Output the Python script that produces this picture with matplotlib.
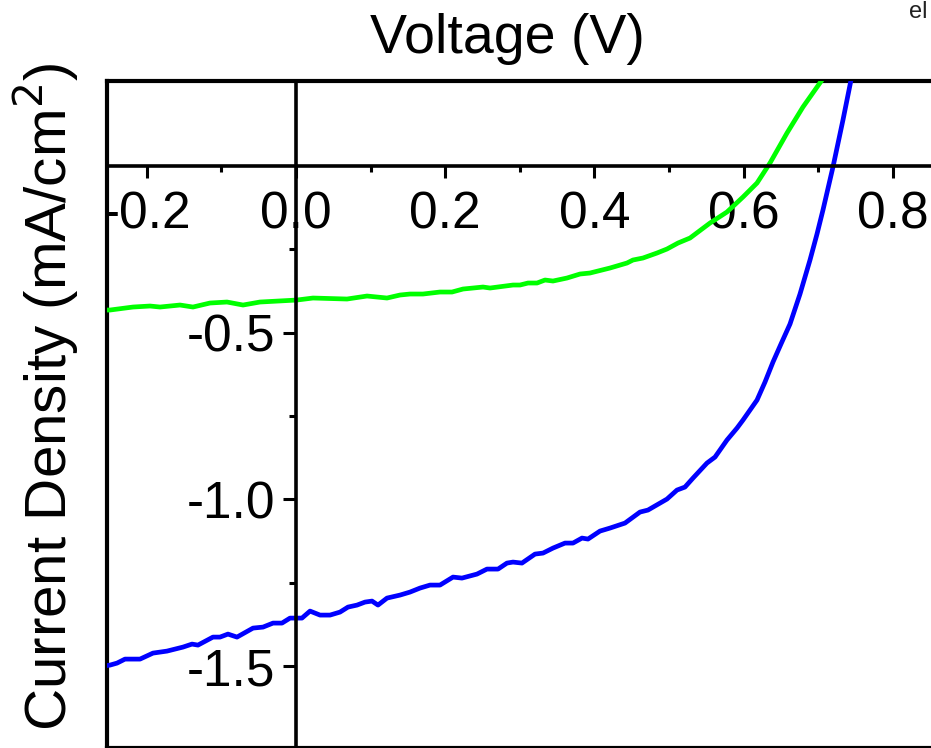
import matplotlib
matplotlib.use("Agg")
import matplotlib.pyplot as plt
from matplotlib.ticker import FixedLocator

plt.rcParams['font.family'] = ['Liberation Sans', 'DejaVu Sans']

# ---- data ----
blue_v = [-0.2587, -0.2493, -0.2399, -0.2292, -0.2091, -0.1917, -0.1729, -0.1515, -0.1394,
          -0.1314, -0.1113, -0.1019, -0.0912, -0.0791, -0.0576, -0.0442, -0.0308, -0.0188,
          -0.0080, 0.0080, 0.0188, 0.0322, 0.0456, 0.0590, 0.0697, 0.0818, 0.0925, 0.1019,
          0.1099, 0.1220, 0.1394, 0.1528, 0.1662, 0.1796, 0.1930, 0.2105, 0.2225, 0.2426,
          0.2560, 0.2708, 0.2828, 0.2909, 0.3029, 0.3204, 0.3311, 0.3445, 0.3606, 0.3713,
          0.3834, 0.3914, 0.4075, 0.4209, 0.4410, 0.4611, 0.4718, 0.4973, 0.5107, 0.5214,
          0.5322, 0.5509, 0.5617, 0.5777, 0.5912, 0.5992, 0.6086, 0.6180, 0.6287, 0.6394,
          0.6501, 0.6622, 0.6756, 0.6890, 0.6984, 0.7064, 0.7198, 0.7332, 0.7440, 0.7493]
blue_j = [-1.500, -1.497, -1.491, -1.479, -1.479, -1.461, -1.455, -1.443, -1.434,
          -1.437, -1.413, -1.413, -1.404, -1.413, -1.386, -1.383, -1.371, -1.371,
          -1.356, -1.356, -1.335, -1.347, -1.347, -1.338, -1.323, -1.317, -1.308, -1.305,
          -1.317, -1.296, -1.287, -1.278, -1.266, -1.257, -1.257, -1.233, -1.236, -1.224,
          -1.209, -1.209, -1.191, -1.188, -1.191, -1.164, -1.161, -1.146, -1.131, -1.131,
          -1.116, -1.119, -1.095, -1.086, -1.071, -1.038, -1.032, -0.999, -0.972, -0.963,
          -0.936, -0.891, -0.873, -0.822, -0.786, -0.762, -0.732, -0.702, -0.648, -0.588,
          -0.534, -0.474, -0.384, -0.282, -0.204, -0.132, -0.003, 0.138, 0.258, 0.318]

green_v = [-0.2587, -0.2493, -0.2185, -0.1957, -0.1823, -0.1555, -0.1381, -0.1153, -0.0925,
           -0.0710, -0.0483, 0.0013, 0.0228, 0.0684, 0.0952, 0.1220, 0.1394, 0.1528, 0.1702,
           0.1930, 0.2091, 0.2239, 0.2507, 0.2601, 0.2909, 0.3003, 0.3110, 0.3231, 0.3338,
           0.3445, 0.3633, 0.3807, 0.3941, 0.4209, 0.4437, 0.4517, 0.4651, 0.4839, 0.4973,
           0.5121, 0.5282, 0.5550, 0.5777, 0.5992, 0.6180, 0.6354, 0.6582, 0.6796, 0.7051,
           0.7131]
green_j = [-0.432, -0.432, -0.423, -0.420, -0.423, -0.417, -0.423, -0.411, -0.408,
           -0.417, -0.408, -0.402, -0.396, -0.399, -0.390, -0.396, -0.387, -0.384, -0.384,
           -0.378, -0.378, -0.369, -0.363, -0.366, -0.357, -0.357, -0.351, -0.351, -0.342,
           -0.345, -0.336, -0.324, -0.321, -0.306, -0.291, -0.282, -0.276, -0.261, -0.249,
           -0.231, -0.216, -0.171, -0.138, -0.093, -0.051, 0.009, 0.099, 0.177, 0.258,
           0.312]

x_major = [-0.2, 0.0, 0.2, 0.4, 0.6, 0.8]
x_major_labels = ["-0.2", "0.0", "0.2", "0.4", "0.6", "0.8"]
x_minor = [-0.1, 0.1, 0.3, 0.5, 0.7]
y_major = [-1.5, -1.0, -0.5]
y_major_labels = ["-1.5", "-1.0", "-0.5"]
y_minor = [-1.25, -0.75, -0.25]

W, H = 931, 748
fig = plt.figure(figsize=(W / 100, H / 100), dpi=100)

# pixel geometry
x0_px, ppv = 296.0, 746.0      # V=0 position and px per volt
y0_px, ppj = 166.0, 333.4      # J=0 position and px per mA/cm2
xlim = (-0.2534, 0.9)
ylim = (-1.745, 0.255)
left_px = x0_px + xlim[0] * ppv
right_px = x0_px + xlim[1] * ppv
top_px = y0_px - ylim[1] * ppj
bot_px = y0_px - ylim[0] * ppj
rect = [left_px / W, 1 - bot_px / H, (right_px - left_px) / W, (bot_px - top_px) / H]

ax = fig.add_axes(rect)
ax.set_xlim(*xlim)
ax.set_ylim(*ylim)
ax.set_facecolor('none')

ax.plot(green_v, green_j, color='#00FF00', lw=3.4, solid_joinstyle='round', zorder=3)
ax.plot(blue_v, blue_j, color='#0000FF', lw=3.4, solid_joinstyle='round', zorder=3)

# centered axes lines
ax.spines['left'].set_position(('data', 0))
ax.spines['bottom'].set_position(('data', 0))
ax.spines['left'].set_linewidth(2.6)
ax.spines['bottom'].set_linewidth(2.6)
ax.spines['top'].set_visible(False)
ax.spines['right'].set_visible(False)
for s in ('left', 'bottom'):
    ax.spines[s].set_zorder(4)

ax.xaxis.set_major_locator(FixedLocator(x_major))
ax.xaxis.set_minor_locator(FixedLocator(x_minor))
ax.set_xticklabels(x_major_labels)
ax.yaxis.set_major_locator(FixedLocator(y_major))
ax.yaxis.set_minor_locator(FixedLocator(y_minor))
ax.set_yticklabels(y_major_labels)

ax.tick_params(axis='x', which='major', direction='out', length=8.8, width=2.2,
               labelsize=37, pad=9)
ax.tick_params(axis='x', which='minor', direction='out', length=4.6, width=2.2)
ax.tick_params(axis='y', which='major', direction='out', length=9.2, width=2.2,
               labelsize=37, pad=6)
ax.tick_params(axis='y', which='minor', direction='out', length=4.8, width=2.2)

# outer frame
frame = fig.add_axes(rect)
frame.set_xlim(*xlim)
frame.set_ylim(*ylim)
frame.set_facecolor('none')
frame.set_xticks([])
frame.set_yticks([])
for s in frame.spines.values():
    s.set_linewidth(3.0)
frame.set_zorder(-1)

fig.text(507 / W, 1 - 53 / H, "Voltage (V)", ha='center', va='baseline', fontsize=40)
fig.text(46 / W, 1 - 397 / H, "Current Density (mA/cm$^2$)", rotation=90,
         ha='center', va='center', fontsize=42)
fig.text(927 / W, 1 - 18 / H, "el", ha='right', va='baseline', fontsize=17, color='#222222')

fig.savefig("out.png", dpi=100)
